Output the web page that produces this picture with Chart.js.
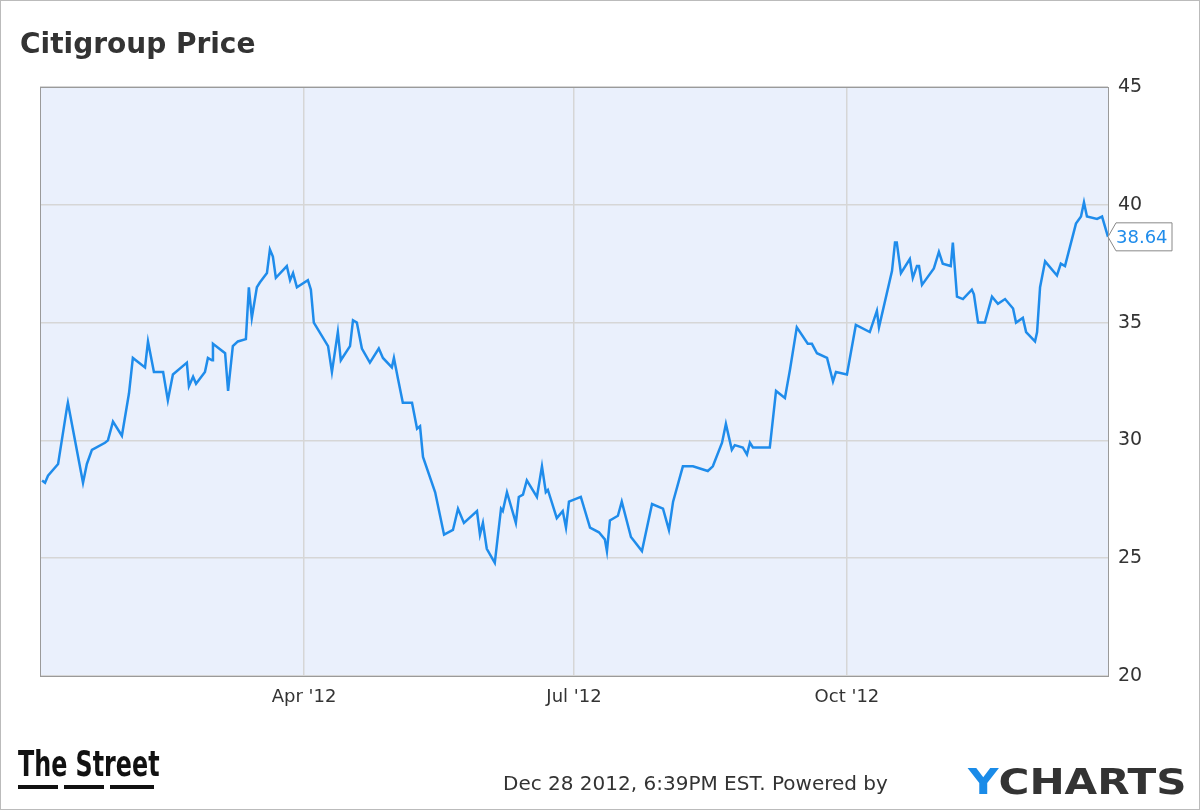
<!DOCTYPE html>
<html>
<head>
<meta charset="utf-8">
<script src="https://cdn.jsdelivr.net/npm/chart.js"></script>
<style>
  html, body { margin: 0; padding: 0; background: #fff; }
  #wrap { width: 1200px; height: 810px; position: relative; }
</style>
</head>
<body>
<div id="wrap"><canvas id="price-chart" width="1200" height="810"></canvas></div>
<script>
// Day of 2012 (Jan 1 = 0) and closing price
const days = [2.7, 3.7, 4.7, 8.1, 11.1, 11.4, 16.5, 17.8, 19.5, 23.9, 24.9, 26.6, 29.6, 32.0, 33.3,
  37.4, 38.4, 40.4, 43.5, 45.1, 46.8, 51.5, 52.2, 53.6, 54.6, 57.6, 58.6, 60.0, 60.3, 64.4, 65.4,
  67.0, 68.7, 71.4, 72.4, 73.4, 75.1, 76.1, 78.5, 79.5, 80.5, 81.5, 85.2, 86.3, 87.3, 88.6, 92.3,
  93.3, 94.3, 99.1, 100.4, 102.4, 103.4, 106.5, 107.5, 108.8, 110.5, 113.2, 116.2, 117.6, 120.6,
  121.3, 122.7, 124.3, 127.4, 129.1, 130.1, 131.1, 135.2, 138.2, 141.2, 142.9, 144.9, 149.3, 150.3,
  151.3, 152.6, 155.3, 157.4, 158.0, 159.4, 162.4, 163.4, 164.8, 166.1, 169.5, 171.2, 172.5, 173.2,
  176.2, 178.2, 179.3, 180.3, 184.3, 187.4, 190.4, 192.4, 193.1, 194.1, 196.8, 198.1, 201.2, 204.9,
  208.3, 212.0, 214.0, 215.4, 218.7, 222.1, 227.1, 228.8, 231.9, 233.2, 235.2, 236.2, 238.9, 240.3,
  241.3, 242.3, 248.0, 250.1, 253.1, 254.8, 257.1, 260.8, 262.2, 263.9, 267.3, 269.3, 270.3, 274.0,
  277.0, 281.7, 284.1, 284.8, 289.2, 290.2, 290.8, 292.2, 295.2, 296.2, 297.6, 298.3, 299.3, 303.3,
  305.0, 306.3, 309.0, 309.7, 311.1, 313.1, 316.1, 316.8, 318.2, 320.5, 322.9, 324.9, 327.3, 330.0,
  331.0, 333.3, 334.4, 337.4, 338.1, 339.1, 340.8, 344.8, 346.1, 347.5, 351.2, 352.9, 353.9, 354.9,
  358.3, 360.0, 362.0];
const prices = [28.3, 28.2, 28.5, 29.0, 31.4, 31.6, 28.2, 29.0, 29.6, 29.9, 30.0, 30.8, 30.2, 32.0, 33.5,
  33.1, 34.2, 32.9, 32.9, 31.7, 32.8, 33.3, 32.3, 32.7, 32.4, 32.9, 33.5, 33.4, 34.1, 33.7, 32.1,
  34.0, 34.2, 34.3, 36.5, 35.2, 36.5, 36.7, 37.1, 38.1, 37.8, 36.9, 37.4, 36.8, 37.1, 36.5, 36.8,
  36.4, 35.0, 34.0, 32.9, 34.6, 33.4, 34.0, 35.1, 35.0, 33.9, 33.3, 33.9, 33.5, 33.1,
  33.5, 32.6, 31.6, 31.6, 30.5, 30.6, 29.3, 27.8, 26.0, 26.2, 27.1, 26.5, 27.0, 26.0,
  26.5, 25.4, 24.8, 27.1, 27.0, 27.8, 26.5, 27.6, 27.7, 28.3, 27.6, 28.9, 27.8, 27.9,
  26.7, 27.0, 26.3, 27.4, 27.6, 26.3, 26.1, 25.8, 25.3, 26.6, 26.8, 27.4, 25.9, 25.3,
  27.3, 27.1, 26.2, 27.4, 28.9, 28.9, 28.7, 28.9, 29.9, 30.7, 29.6, 29.8, 29.7, 29.4,
  29.9, 29.7, 29.7, 32.1, 31.8, 33.0, 34.8, 34.1, 34.1, 33.7, 33.5, 32.5, 32.9, 32.8,
  34.9, 34.6, 35.5, 34.8, 37.2, 38.4, 38.4, 37.1, 37.7, 36.9, 37.4, 37.4, 36.6, 37.3,
  38.0, 37.5, 37.4, 38.4, 36.1, 36.0, 36.4, 36.2, 35.0, 35.0, 36.1, 35.8, 36.0, 35.6,
  35.0, 35.2, 34.6, 34.2, 34.6, 36.5, 37.6, 37.0, 37.5, 37.4, 39.2, 39.5, 40.1, 39.5,
  39.4, 39.5, 38.64];
const monthTicks = [91, 182, 274];
const monthLabels = ["Apr '12", "Jul '12", "Oct '12"];
const priceTicks = [20, 25, 30, 35, 40, 45];
const lastLabel = '38.64';

const points = days.map((d, i) => ({ x: d, y: prices[i] }));
const blue = '#1f8ceb';

const decor = {
  id: 'decor',
  beforeDraw(chart) {
    const { ctx, chartArea: a } = chart;
    ctx.save();
    ctx.fillStyle = '#fff';
    ctx.fillRect(0, 0, chart.width, chart.height);
    ctx.fillStyle = '#eaf0fc';
    ctx.fillRect(a.left, a.top, a.right - a.left, a.bottom - a.top);
    ctx.restore();
  },
  afterDraw(chart) {
    const { ctx, chartArea: a } = chart;
    ctx.save();
    // plot frame
    ctx.strokeStyle = '#9a9a9a';
    ctx.lineWidth = 1;
    ctx.strokeRect(a.left + 0.5, a.top + 0.5, a.right - a.left, a.bottom - a.top);
    // outer frame
    ctx.strokeStyle = '#bbbbbb';
    ctx.strokeRect(0.5, 0.5, chart.width - 1, chart.height - 1);

    // title
    ctx.fillStyle = '#333';
    ctx.font = 'bold 28px "DejaVu Sans", sans-serif';
    ctx.textBaseline = 'alphabetic';
    ctx.fillText('Citigroup Price', 20, 53);

    // last value badge
    const y = chart.scales.y.getPixelForValue(prices[prices.length - 1]);
    const x0 = a.right;
    ctx.beginPath();
    ctx.moveTo(x0, y);
    ctx.lineTo(x0 + 8, y - 14);
    ctx.lineTo(x0 + 64, y - 14);
    ctx.lineTo(x0 + 64, y + 14);
    ctx.lineTo(x0 + 8, y + 14);
    ctx.closePath();
    ctx.fillStyle = '#fff';
    ctx.fill();
    ctx.strokeStyle = '#888';
    ctx.stroke();
    ctx.fillStyle = blue;
    ctx.font = '18px "DejaVu Sans", sans-serif';
    ctx.textBaseline = 'middle';
    ctx.fillText(lastLabel, x0 + 8, y + 1);

    // footer
    ctx.textBaseline = 'alphabetic';
    ctx.save();
    ctx.translate(18, 776);
    ctx.scale(0.7, 1.05);
    ctx.fillStyle = '#111';
    ctx.font = 'bold 34px "DejaVu Sans", sans-serif';
    ctx.fillText('The Street', 0, 0);
    ctx.restore();
    ctx.fillStyle = '#111';
    ctx.fillRect(18, 785, 40, 4);
    ctx.fillRect(64, 785, 40, 4);
    ctx.fillRect(110, 785, 44, 4);

    ctx.fillStyle = '#333';
    ctx.font = '20px "DejaVu Sans", sans-serif';
    ctx.fillText('Dec 28 2012, 6:39PM EST. Powered by', 503, 790);
    ctx.save();
    ctx.translate(968, 794);
    ctx.scale(1.3, 1);
    ctx.font = 'bold 36px "DejaVu Sans Condensed", "DejaVu Sans", sans-serif';
    ctx.fillStyle = '#1a8be8';
    ctx.fillText('Y', 0, 0);
    const yw = ctx.measureText('Y').width;
    ctx.fillStyle = '#333';
    ctx.fillText('CHARTS', yw, 0);
    ctx.restore();
    ctx.restore();
  }
};

new Chart(document.getElementById('price-chart'), {
  type: 'line',
  data: {
    datasets: [{
      data: points,
      borderColor: blue,
      borderWidth: 2.5,
      pointRadius: 0,
      tension: 0,
      fill: false
    }]
  },
  options: {
    responsive: false,
    animation: false,
    parsing: false,
    layout: { padding: { left: 40, top: 87, right: 0, bottom: 104 } },
    plugins: { legend: { display: false }, tooltip: { enabled: false } },
    scales: {
      x: {
        type: 'linear',
        min: 2,
        max: 362,
        afterBuildTicks: s => { s.ticks = monthTicks.map(v => ({ value: v })); },
        afterFit: s => { s.height = 30; },
        ticks: {
          color: '#333',
          font: { size: 18, family: '"DejaVu Sans", sans-serif' },
          maxRotation: 0,
          padding: 11,
          callback: v => monthLabels[monthTicks.indexOf(v)]
        },
        grid: { color: '#d6d6d6', lineWidth: 1.5, drawTicks: false },
        border: { display: false }
      },
      y: {
        position: 'right',
        min: 20,
        max: 45,
        afterBuildTicks: s => { s.ticks = priceTicks.map(v => ({ value: v })); },
        afterFit: s => { s.width = 92; },
        ticks: {
          color: '#333',
          font: { size: 19, family: '"DejaVu Sans", sans-serif' },
          padding: 10
        },
        grid: { color: '#d6d6d6', lineWidth: 1.5, drawTicks: false },
        border: { display: false }
      }
    }
  },
  plugins: [decor]
});
</script>
</body>
</html>
